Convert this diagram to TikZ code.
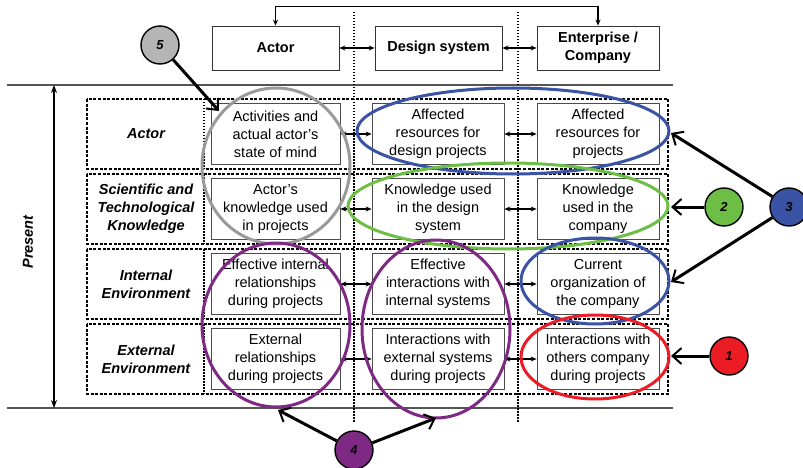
\documentclass[tikz,border=0pt]{standalone}
\usepackage{fontspec}
\setmainfont{Liberation Sans}
\usetikzlibrary{arrows.meta,shapes.geometric}
\definecolor{cgray}{HTML}{9A9A9A}
\definecolor{cgrayfill}{HTML}{B5B5B5}
\definecolor{cblue}{HTML}{3B53A4}
\definecolor{cgreen}{HTML}{6CBE45}
\definecolor{cred}{HTML}{EC1C24}
\definecolor{cpurple}{HTML}{7E2A84}
\definecolor{cline}{HTML}{555555}
\tikzset{
  txt/.style={font=\fontsize{14.5}{18}\selectfont, align=center, inner sep=0pt},
  cell/.style={txt, draw=black!70, line width=0.8pt, minimum height=61pt},
  head/.style={txt, draw=black!80, line width=0.8pt, minimum height=44pt, font=\fontsize{14.5}{18}\selectfont\bfseries},
  rowlab/.style={txt, font=\fontsize{14.5}{18}\selectfont\bfseries\itshape},
  rowbox/.style={draw=black, line width=1.3pt, dash pattern=on 3pt off 1.6pt},
  sep/.style={draw=black, line width=1.3pt, dash pattern=on 1.5pt off 1.5pt},
  dbl/.style={line width=1.3pt, {Stealth[length=6pt,width=5pt]}-{Stealth[length=6pt,width=5pt]}},
  ell/.style={line width=3pt},
  num/.style={circle, draw=black, line width=1.4pt, minimum size=38pt, inner sep=0pt, font=\fontsize{13}{13}\selectfont\bfseries\itshape},
  pointer/.style={line width=3pt, -{Straight Barb[length=9pt,width=16pt,line width=2pt]}}
}
\begin{document}
\begin{tikzpicture}[x=1pt,y=-1pt]
\useasboundingbox (0,0) rectangle (803,468);
% horizontal lines
\draw[cline, line width=1.3pt] (7,85) -- (673,85);
\draw[cline, line width=1.3pt] (7,408) -- (673,408);
% vertical dotted separators
\draw[sep] (354,12) -- (354,422);
\draw[sep] (518,12) -- (518,422);
% headers
\node[head, minimum width=127pt] (hA) at (275.5,48) {Actor};
\node[head, minimum width=127pt] (hD) at (438.5,48) {Design system};
\node[head, minimum width=122pt] (hE) at (598,48) {Enterprise /\\Company};
\draw[line width=1.3pt, {Stealth[length=6pt,width=5pt]}-{Stealth[length=6pt,width=5pt]}] (hA.north) -- ++(0,-19) -| (hE.north);
\draw[dbl] (hA.east) -- (hD.west);
\draw[dbl] (hD.east) -- (hE.west);
% present arrow
\coordinate (pt) at (54,85);
\coordinate (pb) at (54,408);
\draw[line width=1.3pt, {Stealth[length=8pt,width=6pt]}-{Stealth[length=8pt,width=6pt]}] (pt) -- (pb);
\node[rowlab, rotate=90] (present) at (28,242) {Present};
% row boxes
\foreach \yc in {134,209,284,359}{
  \draw[rowbox] (87,\yc-35) rectangle (668,\yc+35);
  \draw[sep] (204,\yc-35) -- (204,\yc+35);
}
% row labels
\node[rowlab] (l1) at (146,134) {Actor};
\node[rowlab] (l2) at (146,209) {Scientific and\\Technological\\Knowledge};
\node[rowlab] (l3) at (146,284) {Internal\\Environment};
\node[rowlab] (l4) at (146,359) {External\\Environment};
% cells
\node[cell, minimum width=129pt] (a1) at (275.5,134) {Activities and\\actual actor's\\state of mind};
\node[cell, minimum width=132pt] (b1) at (438,134) {Affected\\resources for\\design projects};
\node[cell, minimum width=122pt] (c1) at (598,134) {Affected\\resources for\\projects};
\node[cell, minimum width=129pt] (a2) at (275.5,209) {Actor's\\knowledge used\\in projects};
\node[cell, minimum width=132pt] (b2) at (438,209) {Knowledge used\\in the design\\system};
\node[cell, minimum width=122pt] (c2) at (598,209) {Knowledge\\used in the\\company};
\node[cell, minimum width=129pt] (a3) at (275.5,284) {Effective internal\\relationships\\during projects};
\node[cell, minimum width=132pt] (b3) at (438,284) {Effective\\interactions with\\internal systems};
\node[cell, minimum width=122pt] (c3) at (598,284) {Current\\organization of\\the company};
\node[cell, minimum width=129pt] (a4) at (275.5,359) {External\\relationships\\during projects};
\node[cell, minimum width=132pt] (b4) at (438,359) {Interactions with\\external systems\\during projects};
\node[cell, minimum width=122pt] (c4) at (598,359) {Interactions with\\others company\\during projects};
\foreach \r in {1,2,3,4}{
  \draw[dbl] (a\r.east) -- (b\r.west);
  \draw[dbl] (b\r.east) -- (c\r.west);
}
% ellipses
\draw[ell, cgray] (276,166) ellipse [x radius=74, y radius=78];
\draw[ell, cblue] (513,131) ellipse [x radius=156, y radius=43];
\draw[ell, cgreen] (508,206) ellipse [x radius=160, y radius=43];
\draw[ell, cblue] (595,281) ellipse [x radius=74, y radius=43];
\draw[ell, cred] (595,357) ellipse [x radius=74, y radius=42];
\draw[ell, cpurple] (276,325) ellipse [x radius=74, y radius=82];
\draw[ell, cpurple] (436,329) ellipse [x radius=74, y radius=89];
% numbered circles
\node[num, fill=cgrayfill] (n5) at (160,45) {5};
\node[num, fill=cpurple] (n4) at (354,450) {4};
\node[num, fill=cred] (n1) at (729,356) {1};
\node[num, fill=cgreen] (n2) at (724,207) {2};
\node[num, fill=cblue] (n3) at (789,207) {3};
\coordinate (t5) at (219,111);
\coordinate (t4a) at (278,410);
\coordinate (t4b) at (436,418);
\coordinate (t1) at (671,356);
\coordinate (t2) at (671,207);
\coordinate (t3a) at (671,133);
\coordinate (t3b) at (671,282);
\draw[pointer] (n5) -- (t5);
\draw[pointer] (n4) -- (t4a);
\draw[pointer] (n4) -- (t4b);
\draw[pointer] (n1) -- (t1);
\draw[pointer] (n2) -- (t2);
\draw[pointer] (n3) -- (t3a);
\draw[pointer] (n3) -- (t3b);
\end{tikzpicture}
\end{document}
